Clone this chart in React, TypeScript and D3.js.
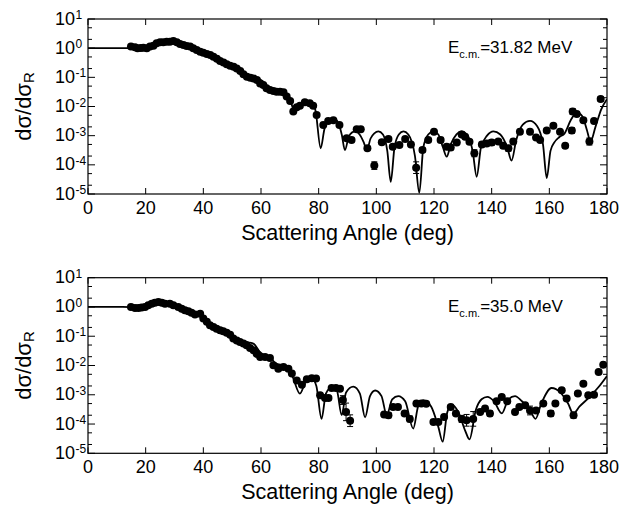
import React from 'react';
import * as d3 from 'd3';

const xTicks = [0, 20, 40, 60, 80, 100, 120, 140, 160, 180];
const yExps = [1, 0, -1, -2, -3, -4, -5];
const minorMultipliers = [2, 5];

// ---------- Top panel (Ec.m. = 31.82 MeV) ----------
const topAngles = [
  14.9, 16.3, 17.2, 18.3, 19.2, 20.4, 21.5, 22.7, 23.8, 25.0, 26.1, 27.3, 28.4, 29.6, 30.8, 31.9, 33.1, 34.2, 35.4, 36.5,
  37.7, 38.9, 40.0, 41.2, 42.4, 43.5, 44.7, 45.8, 47.0, 48.1, 49.3, 50.5, 51.6, 52.8, 53.9, 55.1, 56.3, 57.4, 58.6, 59.7,
  60.8, 61.9, 63.1, 64.3, 65.4, 66.6, 67.8, 68.9, 70.1, 71.2, 72.4, 73.5, 75.2, 76.9, 78.1, 79.3, 81.6, 83.3, 85.1, 87.2,
  89.7, 91.4, 93.2, 94.6, 96.9, 99.3, 101.9, 104.2, 105.7, 108.0, 110.0, 112.0, 113.8, 116.0, 118.0, 120.0, 122.3, 124.4,
  125.8, 127.9, 129.6, 130.8, 132.3, 134.0, 136.6, 138.3, 140.0, 142.3, 144.0, 145.8, 147.5, 149.8, 153.3, 155.4, 156.8,
  159.1, 161.4, 163.7, 165.5, 167.8, 168.1, 169.5, 171.8, 173.9, 175.5, 177.8,
];
const topValues = [
  1.13, 1.07, 0.99, 1.02, 1.04, 0.99, 1.13, 1.22, 1.47, 1.58, 1.58, 1.67, 1.67, 1.76, 1.58, 1.39, 1.29, 1.19, 1.13, 0.99,
  0.865, 0.76, 0.70, 0.63, 0.58, 0.51, 0.43, 0.36, 0.32, 0.28, 0.25, 0.23, 0.20, 0.165, 0.127, 0.105, 0.097, 0.092, 0.081, 0.062,
  0.055, 0.042, 0.037, 0.034, 0.032, 0.032, 0.031, 0.022, 0.0155, 0.0067, 0.0095, 0.0107, 0.0139, 0.0128, 0.0107, 0.0051, 0.0023, 0.0032, 0.0034, 0.0023,
  0.00081, 0.00071, 0.00165, 0.00165, 0.00037, 0.000094, 0.00059, 0.00077, 0.00042, 0.00048, 0.00077, 0.0005, 0.00008, 0.00032, 0.00071, 0.00137, 0.00071, 0.00042,
  0.00039, 0.00058, 0.0011, 0.00092, 0.00062, 0.00025, 0.0005, 0.00054, 0.00058, 0.00063, 0.00045, 0.00037, 0.00063, 0.00137, 0.00137, 0.00087, 0.00071,
  0.0015, 0.0022, 0.00137, 0.00045, 0.0015, 0.0067, 0.0055, 0.0034, 0.00063, 0.0032, 0.018,
];
const topErrors = [
  0.03, 0.03, 0.03, 0.03, 0.03, 0.03, 0.03, 0.03, 0.03, 0.03, 0.03, 0.03, 0.03, 0.03, 0.03, 0.03, 0.03, 0.03, 0.03, 0.03,
  0.03, 0.03, 0.03, 0.03, 0.03, 0.03, 0.03, 0.03, 0.03, 0.03, 0.03, 0.03, 0.03, 0.03, 0.03, 0.03, 0.03, 0.03, 0.03, 0.03,
  0.03, 0.03, 0.03, 0.03, 0.03, 0.03, 0.03, 0.03, 0.03, 0.04, 0.04, 0.04, 0.04, 0.04, 0.04, 0.05, 0.05, 0.05, 0.05, 0.05,
  0.06, 0.06, 0.06, 0.06, 0.07, 0.13, 0.07, 0.06, 0.07, 0.07, 0.06, 0.07, 0.2, 0.08, 0.07, 0.06, 0.09, 0.08,
  0.08, 0.07, 0.07, 0.07, 0.07, 0.12, 0.08, 0.08, 0.1, 0.07, 0.08, 0.1, 0.08, 0.08, 0.06, 0.07, 0.07,
  0.07, 0.07, 0.07, 0.07, 0.1, 0.1, 0.08, 0.07, 0.12, 0.07, 0.08,
];
const topCurveAngles = [
  0, 12, 15, 18, 21, 24, 27, 29.5, 32, 35, 38, 41, 44, 47, 50, 53, 56, 58.5, 60.5, 62.5, 65, 68, 70, 71.6, 73, 75, 77, 78.8,
  80.7, 82, 83.5, 85, 86.6, 88, 89.1, 90.4, 91.6, 92.8, 94.2, 95.6, 96.7, 98, 99.3, 100.7, 102.3, 103.8, 105, 106.3, 107.8,
  109.4, 111.1, 113.4, 114.9, 116.3, 118, 119.8, 121.5, 123.1, 124.4, 125.8, 127.8, 129.6, 131.4, 133.4, 134.8, 136.3, 138.4,
  140.6, 143, 145.4, 146.9, 148.5, 150.8, 153.3, 155.8, 157.8, 159.1, 160.4, 161.8, 163.5, 165.3, 167.5, 169.5, 171.5, 173,
  174.3, 176, 178, 180,
];
const topCurveValues = [
  1, 1, 1.0, 0.97, 1.05, 1.35, 1.6, 1.65, 1.4, 1.1, 0.82, 0.62, 0.45, 0.32, 0.23, 0.16, 0.11, 0.095, 0.075, 0.048, 0.036, 0.03, 0.018, 0.007, 0.009, 0.013, 0.0135, 0.008,
  0.00037, 0.0017, 0.0034, 0.004, 0.003, 0.0011, 0.00032, 0.0009, 0.0013, 0.0014, 0.0011, 0.0006, 0.00032, 0.0008, 0.0012, 0.0014, 0.0011, 0.0003, 0.000026, 0.0004, 0.0011,
  0.0014, 0.0011, 0.0002, 0.000011, 0.0004, 0.0011, 0.0014, 0.0011, 0.0004, 0.00019, 0.0005, 0.0011, 0.0014, 0.0011, 0.0003, 0.000039, 0.0004, 0.001,
  0.0014, 0.0011, 0.0004, 0.00014, 0.0007, 0.0024, 0.0032, 0.0021, 0.0005, 0.000035, 0.0003, 0.0006, 0.0009, 0.0012, 0.0035, 0.0063, 0.0045, 0.0016,
  0.00063, 0.002, 0.008, 0.0178,
];

// ---------- Bottom panel (Ec.m. = 35.0 MeV) ----------
const botAngles = [
  14.9, 16.3, 17.5, 18.6, 19.8, 20.9, 22.1, 23.2, 24.4, 25.6, 26.7, 28.4, 29.6, 31.3, 32.5, 33.6, 34.8, 35.9, 37.1, 38.9,
  40.0, 41.2, 42.3, 43.5, 44.6, 45.8, 46.9, 48.1, 49.3, 50.4, 51.6, 52.7, 53.9, 55.0, 56.2, 57.4, 58.5, 59.7, 61.4, 63.1,
  64.3, 66.0, 67.8, 69.5, 70.7, 72.4, 74.2, 75.9, 77.6, 79.1, 80.5, 82.2, 83.4, 84.5, 86.0, 87.4, 88.4, 89.5, 90.9,
  102.7, 104.2, 105.8, 107.5, 109.8, 111.6, 113.9, 115.6, 117.3, 119.8, 121.5, 123.5, 125.8, 127.6, 129.6, 131.3, 133.6,
  136.0, 137.7, 139.4, 141.7, 143.5, 145.4, 148.1, 149.6, 151.6, 153.3, 155.4, 157.9, 160.5, 162.1, 164.3, 166.0, 168.4,
  169.9, 171.8, 173.5, 175.5, 177.1, 178.7,
];
const botValues = [
  1.0, 0.92, 0.92, 0.95, 1.0, 1.14, 1.30, 1.40, 1.48, 1.40, 1.30, 1.30, 1.14, 1.0, 0.87, 0.77, 0.71, 0.64, 0.55, 0.59,
  0.40, 0.31, 0.236, 0.207, 0.18, 0.16, 0.147, 0.132, 0.113, 0.083, 0.072, 0.064, 0.056, 0.049, 0.040, 0.033, 0.025, 0.0195, 0.0195, 0.018,
  0.0101, 0.0078, 0.0089, 0.0078, 0.0053, 0.0031, 0.0022, 0.0034, 0.0037, 0.0036, 0.00096, 0.00078, 0.00078, 0.0017, 0.0017, 0.0016, 0.00066, 0.00026, 0.00013,
  0.00021, 0.0002, 0.00038, 0.00038, 0.00023, 0.00015, 0.0005, 0.0005, 0.00049, 0.000117, 0.000117, 0.000174, 0.00038, 0.00023, 0.00015, 0.000134, 0.00015,
  0.00026, 0.00034, 0.00023, 0.0006, 0.00084, 0.0006, 0.00026, 0.00038, 0.00044, 0.00029, 0.00029, 0.0005, 0.00023, 0.0005, 0.00142, 0.00074, 0.0002,
  0.0011, 0.0024, 0.00096, 0.001, 0.006, 0.0107,
];
const botErrors = [
  0.03, 0.03, 0.03, 0.03, 0.03, 0.03, 0.03, 0.03, 0.03, 0.03, 0.03, 0.03, 0.03, 0.03, 0.03, 0.03, 0.03, 0.03, 0.03, 0.03,
  0.03, 0.03, 0.03, 0.03, 0.03, 0.03, 0.03, 0.03, 0.03, 0.03, 0.03, 0.03, 0.04, 0.04, 0.04, 0.04, 0.04, 0.05, 0.05, 0.05,
  0.05, 0.05, 0.05, 0.05, 0.05, 0.06, 0.06, 0.05, 0.05, 0.05, 0.06, 0.06, 0.06, 0.05, 0.05, 0.06, 0.15, 0.3, 0.2,
  0.07, 0.09, 0.06, 0.06, 0.07, 0.1, 0.06, 0.06, 0.06, 0.06, 0.06, 0.07, 0.06, 0.07, 0.12, 0.2, 0.25,
  0.07, 0.07, 0.09, 0.06, 0.06, 0.06, 0.07, 0.06, 0.06, 0.15, 0.07, 0.06, 0.1, 0.06, 0.06, 0.06, 0.1,
  0.06, 0.06, 0.06, 0.06, 0.05, 0.05,
];
const botCurveAngles = [
  0, 12, 15, 18, 21, 24, 27, 30, 33, 36, 39, 42, 45, 48, 51, 53, 55.5, 57.5, 59.5, 61.5, 63, 65, 67, 69, 71, 73.5, 75.5, 77.5,
  79.2, 81, 82.5, 84.5, 86.3, 88, 89.5, 92, 94.3, 96.1, 97.8, 99.6, 101.8, 103.6, 105.5, 107.6, 110, 112.8, 114.5, 116.3,
  119, 121.5, 123, 124.6, 126.2, 128.5, 130.8, 132.3, 134.5, 136.5, 138.5, 140.8, 143.5, 145.8, 148.1, 150.5, 153.3, 155.2,
  157.2, 160.8, 163.8, 166.5, 168.3, 170.5, 174, 177, 180,
];
const botCurveValues = [
  1, 1, 0.98, 0.95, 1.12, 1.42, 1.35, 1.1, 0.85, 0.65, 0.5, 0.3, 0.19, 0.13, 0.085, 0.07, 0.062, 0.055, 0.03, 0.022, 0.02, 0.012, 0.0105, 0.0085, 0.004, 0.0011, 0.0028, 0.0038,
  0.002, 0.00015, 0.0011, 0.0018, 0.0014, 0.0002, 0.0012, 0.0019, 0.0011, 0.00017, 0.0009, 0.0014, 0.0009, 0.0002, 0.0007, 0.0009, 0.0006, 0.00007, 0.0004, 0.00065,
  0.0004, 0.00008, 0.000025, 0.00025, 0.00045, 0.00025, 0.00006, 0.00003, 0.0003, 0.0007, 0.00085, 0.0006, 0.00023, 0.0007, 0.0009, 0.0006, 0.0003, 0.00015,
  0.0005, 0.0017, 0.0012, 0.0005, 0.00023, 0.0004, 0.00085, 0.0018, 0.0044,
];

const FONT = "'Liberation Sans', Arial, Helvetica, sans-serif";
const X0 = 88;
const X1 = 607;

type PanelProps = {
  id: string;
  y0: number;
  y1: number;
  angles: number[];
  values: number[];
  errors: number[];
  curveAngles: number[];
  curveValues: number[];
  energy: string;
};

function Panel({ id, y0, y1, angles, values, errors, curveAngles, curveValues, energy }: PanelProps) {
  const x = d3.scaleLinear().domain([0, 180]).range([X0, X1]);
  const y = d3.scaleLog().domain([1e-5, 10]).range([y1, y0]);
  const line = d3
    .line<number>()
    .x((_, i) => x(curveAngles[i]))
    .y((v) => y(v))
    .curve(d3.curveMonotoneX);
  const minorVals: number[] = [];
  yExps.forEach((e) => {
    if (e < 1) minorMultipliers.forEach((m) => minorVals.push(m * Math.pow(10, e)));
  });
  const cy = (y0 + y1) / 2;
  return (
    <g>
      <defs>
        <clipPath id={id}>
          <rect x={X0} y={y0} width={X1 - X0} height={y1 - y0} />
        </clipPath>
      </defs>
      {/* ticks */}
      {xTicks.map((t) => (
        <g key={'xt' + t} stroke="#000" strokeWidth={1}>
          <line x1={x(t)} x2={x(t)} y1={y1} y2={y1 - 6} />
          <line x1={x(t)} x2={x(t)} y1={y0} y2={y0 + 6} />
        </g>
      ))}
      {yExps.map((e) => (
        <g key={'yt' + e} stroke="#000" strokeWidth={1}>
          <line x1={X0} x2={X0 + 7} y1={y(Math.pow(10, e))} y2={y(Math.pow(10, e))} />
          <line x1={X1} x2={X1 - 7} y1={y(Math.pow(10, e))} y2={y(Math.pow(10, e))} />
        </g>
      ))}
      {minorVals.map((v, i) => (
        <g key={'ym' + i} stroke="#000" strokeWidth={1}>
          <line x1={X0} x2={X0 + 4} y1={y(v)} y2={y(v)} />
          <line x1={X1} x2={X1 - 4} y1={y(v)} y2={y(v)} />
        </g>
      ))}
      {/* tick labels */}
      {xTicks.map((t) => {
        const last = t === 180;
        return (
          <text
            key={'xl' + t}
            x={last ? 619 : x(t)}
            y={y1 + 19.5}
            textAnchor={last ? 'end' : 'middle'}
            fontSize={18}
            fontFamily={FONT}
          >
            {t}
          </text>
        );
      })}
      {yExps.map((e) => (
        <g key={'yl' + e} fontFamily={FONT}>
          <text x={75} y={y(Math.pow(10, e)) + 5.5} textAnchor="end" fontSize={18}>
            10
          </text>
          <text x={75.5} y={y(Math.pow(10, e))} textAnchor="start" fontSize={12}>
            {e < 0 ? '-' + Math.abs(e) : String(e)}
          </text>
        </g>
      ))}
      {/* curve */}
      <path d={line(curveValues) || ''} fill="none" stroke="#000" strokeWidth={1.8} clipPath={`url(#${id})`} />
      {/* data */}
      <g clipPath={`url(#${id})`}>
        {angles.map((a, i) => {
          const v = values[i];
          const e = errors[i];
          const yt = y(v * Math.pow(10, e));
          const yb = y(v / Math.pow(10, e));
          return (
            <g key={'d' + i}>
              <line x1={x(a)} x2={x(a)} y1={yt} y2={yb} stroke="#000" strokeWidth={1} />
              <line x1={x(a) - 3} x2={x(a) + 3} y1={yt} y2={yt} stroke="#000" strokeWidth={1} />
              <line x1={x(a) - 3} x2={x(a) + 3} y1={yb} y2={yb} stroke="#000" strokeWidth={1} />
              <circle cx={x(a)} cy={y(v)} r={4} fill="#000" />
            </g>
          );
        })}
      </g>
      {/* frame */}
      <rect x={X0} y={y0} width={X1 - X0} height={y1 - y0} fill="none" stroke="#000" strokeWidth={1.2} />
      {/* annotation */}
      <text x={448} y={y0 + 34} fontSize={17} fontFamily={FONT}>
        E
        <tspan fontSize={11} dy={5}>
          c.m.
        </tspan>
        <tspan fontSize={17} dy={-5}>
          {'=' + energy + ' MeV'}
        </tspan>
      </text>
      {/* axis labels */}
      <text x={(X0 + X1) / 2} y={y1 + 46} textAnchor="middle" fontSize={21.5} fontFamily={FONT}>
        Scattering Angle (deg)
      </text>
      <text transform={`translate(31,${cy}) rotate(-90)`} textAnchor="middle" fontSize={22} fontFamily={FONT}>
        dσ/dσ
        <tspan fontSize={15} dy={3}>
          R
        </tspan>
      </text>
    </g>
  );
}

export default function App() {
  return (
    <svg
      width={620}
      height={513}
      style={{ position: 'absolute', left: 0, top: 0, background: '#fff' }}
    >
      <rect x={0} y={0} width={620} height={513} fill="#fff" />
      <Panel
        id="clipTop"
        y0={19}
        y1={194}
        angles={topAngles}
        values={topValues}
        errors={topErrors}
        curveAngles={topCurveAngles}
        curveValues={topCurveValues}
        energy="31.82"
      />
      <Panel
        id="clipBot"
        y0={277.7}
        y1={453.3}
        angles={botAngles}
        values={botValues}
        errors={botErrors}
        curveAngles={botCurveAngles}
        curveValues={botCurveValues}
        energy="35.0"
      />
    </svg>
  );
}
